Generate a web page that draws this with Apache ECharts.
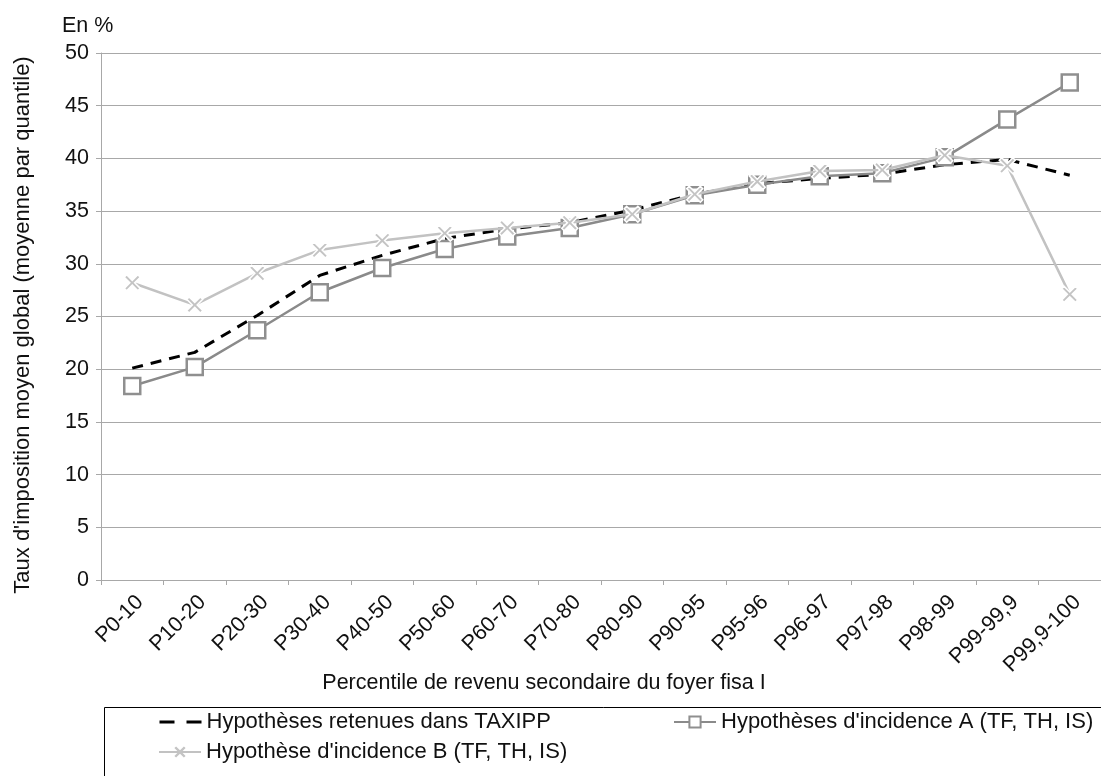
<!DOCTYPE html>
<html>
<head>
<meta charset="utf-8">
<script src="https://cdn.jsdelivr.net/npm/echarts@6/dist/echarts.min.js"></script>
<style>
  html, body { margin: 0; padding: 0; background: #fff; }
  #chart { width: 1101px; height: 776px; }
</style>
</head>
<body>
<div id="chart"></div>
<script>
// Percentile groups of secondary household income
const categories = ['P0-10', 'P10-20', 'P20-30', 'P30-40', 'P40-50', 'P50-60', 'P60-70', 'P70-80',
  'P80-90', 'P90-95', 'P95-96', 'P96-97', 'P97-98', 'P98-99', 'P99-99,9', 'P99,9-100'];

// Average global tax rate per quantile (%)
const taxippValues = [20.1, 21.6, 25.1, 28.9, 30.8, 32.4, 33.3, 33.9, 35.1, 36.6, 37.6, 38.1, 38.5, 39.4, 39.9, 38.4];
const incidenceAValues = [18.4, 20.2, 23.7, 27.3, 29.6, 31.4, 32.6, 33.4, 34.7, 36.5, 37.5, 38.3, 38.6, 40.1, 43.7, 47.2];
const incidenceBValues = [28.2, 26.1, 29.1, 31.3, 32.2, 32.9, 33.4, 33.9, 34.7, 36.6, 37.8, 38.8, 38.9, 40.3, 39.3, 27.1];

const seriesNames = [
  'Hypothèses retenues dans TAXIPP',
  "Hypothèses d'incidence A (TF, TH, IS)",
  "Hypothèse d'incidence B (TF, TH, IS)"
];

const yTicks = { min: 0, max: 50, interval: 5 };

const FONT = '"Liberation Sans", Arial, Helvetica, sans-serif';
const FS = 21.5;
const GRID_GREY = '#a8a8a8';
// filled "x" marker
const CROSS = 'path://M0,1.5L1.5,0L5,3.5L8.5,0L10,1.5L6.5,5L10,8.5L8.5,10L5,6.5L1.5,10L0,8.5L3.5,5Z';

const chart = echarts.init(document.getElementById('chart'), null, { renderer: 'canvas' });

const legendText = { color: '#111', fontSize: 22, fontFamily: FONT, lineHeight: 14 };
const legendBase = { padding: 0, itemWidth: 42, itemHeight: 14, itemGap: 0, textStyle: legendText };

chart.setOption({
  animation: false,
  backgroundColor: '#fff',
  textStyle: { fontFamily: FONT },
  grid: { left: 101, top: 53, width: 1004, height: 527, containLabel: false },
  legend: [
    Object.assign({
      data: [{ name: seriesNames[0], itemStyle: { opacity: 0 }, lineStyle: { type: [15, 12], width: 3 } }],
      left: 158, top: 711
    }, legendBase),
    Object.assign({
      data: [{ name: seriesNames[1] }],
      left: 673, top: 711
    }, legendBase),
    Object.assign({
      data: [{ name: seriesNames[2], itemStyle: { borderWidth: 0 } }],
      left: 158, top: 741
    }, legendBase)
  ],
  graphic: [
    {
      type: 'text', left: 62, top: 15,
      style: { text: 'En %', fill: '#111', font: FS + 'px ' + FONT }
    },
    {
      type: 'text', x: 544, y: 683,
      style: {
        text: 'Percentile de revenu secondaire du foyer fisa I',
        fill: '#111', font: FS + 'px ' + FONT, align: 'center', verticalAlign: 'middle'
      }
    },
    {
      type: 'text', x: 23, y: 325, rotation: Math.PI / 2,
      style: {
        text: "Taux d'imposition moyen global (moyenne par quantile)",
        fill: '#111', font: '22px ' + FONT, align: 'center', verticalAlign: 'middle'
      }
    },
    {
      type: 'rect',
      shape: { x: 104.5, y: 707.5, width: 1100, height: 120 },
      style: { fill: 'none', stroke: '#000', lineWidth: 1 },
      silent: true
    }
  ],
  xAxis: {
    type: 'category',
    data: categories,
    boundaryGap: true,
    axisLine: { lineStyle: { color: GRID_GREY, width: 1 } },
    axisTick: { show: true, length: 5, lineStyle: { color: GRID_GREY } },
    axisLabel: {
      rotate: 45, fontSize: FS, color: '#111', margin: 11, interval: 0, fontFamily: FONT,
      verticalAlign: 'top'
    },
    splitLine: { show: false }
  },
  yAxis: {
    type: 'value',
    min: yTicks.min,
    max: yTicks.max,
    interval: yTicks.interval,
    axisLine: { show: true, lineStyle: { color: GRID_GREY, width: 1 } },
    axisTick: { show: true, length: 5, lineStyle: { color: GRID_GREY } },
    axisLabel: { fontSize: FS, color: '#111', margin: 12, fontFamily: FONT },
    splitLine: { show: true, lineStyle: { color: GRID_GREY, width: 1 } }
  },
  series: [
    {
      name: seriesNames[0],
      type: 'line',
      data: taxippValues,
      symbol: 'none',
      lineStyle: { color: '#000', width: 3, type: [11, 8] },
      itemStyle: { color: '#000' },
      z: 2
    },
    {
      name: seriesNames[1],
      type: 'line',
      data: incidenceAValues,
      symbol: 'rect',
      symbolSize: 16,
      lineStyle: { color: '#8a8a8a', width: 2.5 },
      itemStyle: { color: '#fff', borderColor: '#8f8f8f', borderWidth: 2.5 },
      z: 3
    },
    {
      name: seriesNames[2],
      type: 'line',
      data: incidenceBValues,
      symbol: CROSS,
      symbolSize: 16,
      lineStyle: { color: '#c2c2c2', width: 2.5 },
      itemStyle: { color: '#c4c4c4', borderColor: '#ffffff', borderWidth: 1.5 },
      z: 4
    }
  ]
});
</script>
</body>
</html>
